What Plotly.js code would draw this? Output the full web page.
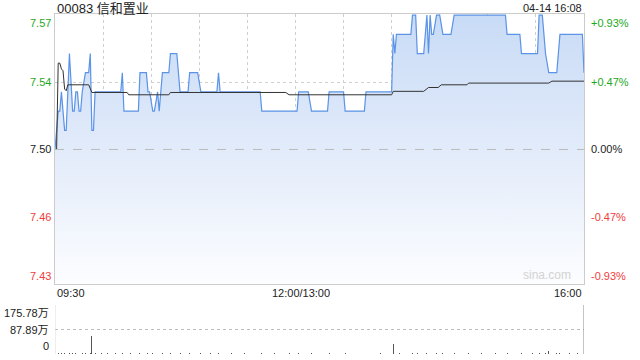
<!DOCTYPE html>
<html>
<head>
<meta charset="utf-8">
<script src="https://cdn.plot.ly/plotly-3.0.1.min.js"></script>
<style>html,body{margin:0;padding:0;background:#fff;}#chart{width:640px;height:360px;}</style>
</head>
<body>
<div id="chart"></div>
<script>
// ---- data ----
const title = '00083 信和置业';
const stamp = '04-14 16:08';
const prevClose = 7.50;
// minutes since 09:30 (lunch break removed: 150 = 12:00/13:00, 330 = 16:00)
const priceMin = [0,2,3,4,6,7,9,11,12,13,14,15,16,17,19,21,22,23,24,25,41,42,43,52,53,57,58,59,61,62,64,65,66,67,71,72,76,78,83,84,89,91,101,102,103,128,129,151,152,158,160,170,171,180,181,193,194,210,211,212,213,222,223,225,226,230,232,233,234,235,236,238,240,242,247,249,281,282,290,291,301,302,304,306,308,313,315,329,330];
const price = [7.50,7.52,7.52,7.53,7.51,7.51,7.55,7.52,7.52,7.53,7.53,7.52,7.52,7.53,7.54,7.54,7.55,7.51,7.51,7.53,7.53,7.54,7.52,7.52,7.54,7.54,7.53,7.53,7.52,7.52,7.53,7.52,7.53,7.54,7.54,7.55,7.55,7.53,7.53,7.54,7.54,7.53,7.53,7.54,7.53,7.53,7.52,7.52,7.53,7.53,7.52,7.52,7.53,7.53,7.52,7.52,7.53,7.53,7.56,7.55,7.56,7.56,7.57,7.57,7.55,7.55,7.57,7.55,7.57,7.56,7.56,7.57,7.57,7.56,7.56,7.57,7.57,7.56,7.56,7.55,7.55,7.57,7.57,7.55,7.54,7.54,7.56,7.56,7.54];
const avgMin = [1,2,3,4,5,6,7,8,21,23,45,46,71,72,144,146,210,211,230,231,233,239,241,257,258,308,310,330];
const avgPrice = [7.50,7.545,7.545,7.542,7.541,7.5315,7.5306,7.5337,7.5337,7.5297,7.5297,7.5285,7.5285,7.5297,7.5297,7.5285,7.5285,7.5303,7.5303,7.531,7.5323,7.5323,7.5337,7.5337,7.5346,7.5346,7.5356,7.5356];
const volMin = [0,2,4,6,9,11,13,17,19,22,23,25,29,33,38,42,47,53,58,61,67,72,78,84,91,97,102,110,118,129,137,146,152,160,171,181,194,203,211,215,223,226,232,238,242,249,258,266,275,282,291,298,302,306,308,313,315,321,326,330];
const volWan = [6,4,5,3,5,3,2,3,2,3,65,3,2,2,3,3,2,2,2,3,2,3,2,2,2,2,2,2,2,2,2,2,2,2,2,2,2,2,36,3,2,3,3,2,3,2,2,2,2,2,2,2,3,2,9,2,3,2,2,3];
const priceTicks = [7.57, 7.535, 7.50, 7.465, 7.43];
const priceLabels = ['7.57','7.54','7.50','7.46','7.43'];
const pctLabels = ['+0.93%','+0.47%','0.00%','-0.47%','-0.93%'];
const volTicks = [175.78, 87.89, 0];
const volLabels = ['175.78万','87.89万','0'];
const timeTicks = [0, 150, 330];
const timeLabels = ['09:30','12:00/13:00','16:00'];
const gridMin = [30,60,90,120,150,180,210,240,270,300];

// ---- styles ----
const FONT = 'Liberation Sans, Arial, Noto Sans CJK SC, sans-serif';
const GREEN = '#1ea81e', RED = '#f23c3c', DARK = '#222';
const colorFor = v => v > prevClose + 1e-9 ? GREEN : (v < prevClose - 1e-9 ? RED : DARK);

const traces = [
  {x:[0,330], y:[7.43,7.43], xaxis:'x', yaxis:'y', mode:'lines', line:{width:0}, hoverinfo:'skip', showlegend:false},
  {x:priceMin, y:price, xaxis:'x', yaxis:'y', mode:'lines', fill:'tonexty',
   fillgradient:{type:'vertical', start:7.43, stop:7.57,
     colorscale:[[0,'rgba(252,253,255,1)'],[0.5,'rgba(226,235,250,1)'],[1,'rgba(200,219,246,1)']]},
   line:{color:'#5b93e6', width:1.2}, showlegend:false},
  {x:avgMin, y:avgPrice, xaxis:'x', yaxis:'y', mode:'lines', line:{color:'#333', width:1}, showlegend:false},
  {x:volMin, y:volWan, xaxis:'x2', yaxis:'y2', type:'bar', width:0.6, marker:{color:'#555', line:{width:0}}, showlegend:false}
];

const ann = [];
ann.push({text:title, xref:'paper', yref:'paper', x:0, y:1.0176, xanchor:'left', yanchor:'middle', showarrow:false, font:{family:FONT, size:13, color:'#222'}});
ann.push({text:stamp, xref:'paper', yref:'paper', x:1, y:1.0176, xanchor:'right', yanchor:'middle', showarrow:false, font:{family:FONT, size:11, color:'#222'}});
priceTicks.forEach((v,i) => {
  const ya = i === 0 ? 'top' : (i === priceTicks.length-1 ? 'bottom' : 'middle');
  ann.push({text:priceLabels[i], xref:'paper', yref:'y', x:0, y:v, xanchor:'right', yanchor:ya, xshift:-2, showarrow:false, font:{family:FONT, size:11, color:colorFor(v)}});
  ann.push({text:pctLabels[i], xref:'paper', yref:'y', x:1, y:v, xanchor:'left', yanchor:ya, xshift:5, showarrow:false, font:{family:FONT, size:11, color:colorFor(v)}});
});
volTicks.forEach((v,i) => {
  const ya = i === 0 ? 'top' : (i === volTicks.length-1 ? 'bottom' : 'middle');
  ann.push({text:volLabels[i], xref:'paper', yref:'y2', x:0, y:v, xanchor:'right', yanchor:ya, xshift:-4, showarrow:false, font:{family:FONT, size:11, color:'#222'}});
});
timeTicks.forEach((v,i) => {
  const xa = i === 0 ? 'left' : (i === timeTicks.length-1 ? 'right' : 'center');
  ann.push({text:timeLabels[i], xref:'x', yref:'paper', x:v, y:0.179, xanchor:xa, yanchor:'middle', xshift: i===1 ? 6 : 0, showarrow:false, font:{family:FONT, size:11, color:'#222'}});
});
ann.push({text:'sina.com', xref:'x', yref:'y', x:323, y:7.43, xanchor:'right', yanchor:'bottom', showarrow:false, font:{family:FONT, size:12, color:'#d2d2d2'}});

const layout = {
  width:640, height:360,
  margin:{l:55, r:56, t:14, b:6, pad:0},
  paper_bgcolor:'#fff', plot_bgcolor:'rgba(0,0,0,0)',
  showlegend:false, bargap:0,
  xaxis:{domain:[0,1], range:[0,330], tickvals:gridMin, showticklabels:false, ticks:'',
    showgrid:true, gridcolor:'#cfcfcf', griddash:'dot', gridwidth:1, zeroline:false,
    showline:true, mirror:true, linecolor:'#cccccc', linewidth:1, anchor:'y', fixedrange:true},
  yaxis:{domain:[0.2059,1], range:[7.4299,7.5706], tickvals:[7.465,7.535], showticklabels:false, ticks:'',
    showgrid:true, gridcolor:'#cfcfcf', griddash:'dot', gridwidth:1, zeroline:false,
    showline:true, mirror:true, linecolor:'#cccccc', linewidth:1, anchor:'x'},
  xaxis2:{domain:[0,1], range:[0,330], showticklabels:false, ticks:'', showgrid:false, zeroline:false, showline:false, anchor:'y2'},
  yaxis2:{domain:[0,0.1441], range:[0,175.78], tickvals:[0,87.89,175.78], showticklabels:false, ticks:'',
    showgrid:true, gridcolor:'#bdbdbd', griddash:'dot', gridwidth:1, zeroline:false, showline:false, anchor:'x2'},
  shapes:[
    {type:'line', xref:'x', yref:'y', x0:0, x1:330, y0:prevClose, y1:prevClose, line:{color:'#bbbbbb', width:1, dash:'dash'}},
    {type:'line', xref:'x2', yref:'y2', x0:330, x1:330, y0:0, y1:175.78, line:{color:'#888', width:1}},
    {type:'line', xref:'x2', yref:'y2', x0:0, x1:0, y0:0, y1:175.78, line:{color:'#dddddd', width:1}}
  ],
  annotations:ann
};

Plotly.newPlot('chart', traces, layout, {staticPlot:true, displayModeBar:false});
</script>
</body>
</html>
